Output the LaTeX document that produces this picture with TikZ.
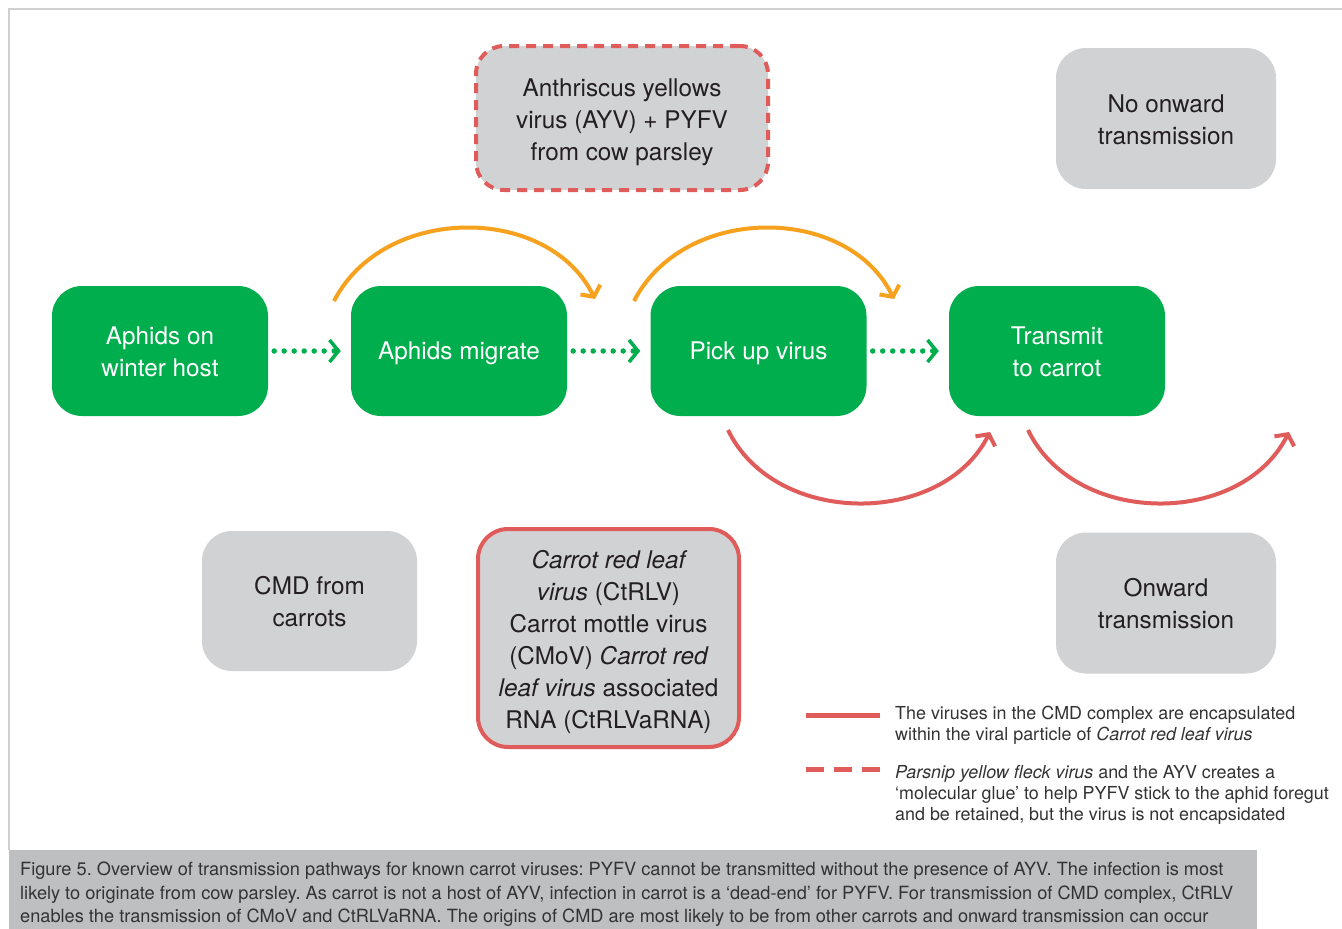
\documentclass[tikz,border=0pt]{standalone}
\usepackage{fontspec}
\setmainfont{TeX Gyre Heros}
\usetikzlibrary{arrows.meta}
\definecolor{cgreen}{HTML}{00AE4D}
\definecolor{corange}{HTML}{F6A21E}
\definecolor{cred}{HTML}{E05C5A}
\definecolor{cgrey}{HTML}{D1D2D4}
\definecolor{ccap}{HTML}{BEBFC1}
\definecolor{cframe}{HTML}{D0D0D0}
\definecolor{ctext}{HTML}{231F20}
\definecolor{clegend}{HTML}{333333}
\newcommand{\lift}[1]{\rule{0pt}{#1pt}}
\begin{document}
\frenchspacing
\begin{tikzpicture}[x=1pt,y=-1pt,
  boxfont/.style={font=\fontsize{24.3}{32}\selectfont},
  greenbox/.style={boxfont,rectangle,rounded corners=30pt,fill=cgreen,text=white,
    minimum width=216pt,minimum height=130pt,align=center,inner sep=0pt},
  greybox/.style={boxfont,rectangle,rounded corners=30pt,fill=cgrey,text=ctext,
    minimum width=220pt,minimum height=141pt,align=center,inner sep=0pt},
  dashbox/.style={boxfont,rectangle,rounded corners=28pt,fill=cgrey,text=ctext,draw=cred,
    line width=4pt,dash pattern=on 10pt off 7pt,align=center,inner sep=0pt},
  redbox/.style={boxfont,rectangle,rounded corners=30pt,fill=cgrey,text=ctext,draw=cred,
    line width=4pt,align=center,inner sep=0pt},
  dotarrow/.style={cgreen,line width=5.5pt,line cap=round,dash pattern=on 0pt off 10pt,
    -{Straight Barb[length=9pt,width=22pt,line width=3.5pt,sharp]}},
  orangearc/.style={corange,line width=4pt,
    -{Straight Barb[length=8pt,width=22pt,line width=4pt,sharp]}},
  redarc/.style={cred,line width=4pt,
    -{Straight Barb[length=8pt,width=22pt,line width=4pt,sharp]}},
  legendtext/.style={font=\fontsize{17.9}{21}\selectfont,text=clegend,align=left,
    inner sep=0pt,anchor=north west},
]
\useasboundingbox (0,0) rectangle (1342,929);
\fill[white] (0,0) rectangle (1342,929);
% frame
\draw[cframe,line width=2pt] (9,850) -- (9,9) -- (1342,9);
% caption
\fill[ccap] (9,850) rectangle (1257,929);
\node[font=\fontsize{18.2}{23.5}\selectfont,text=clegend,align=left,inner sep=0pt,
  anchor=north west] (cap) at (20,862)
  {Figure 5. Overview of transmission pathways for known carrot viruses: PYFV cannot be transmitted without the presence of AYV. The infection is most\\
   likely to originate from cow parsley. As carrot is not a host of AYV, infection in carrot is a `dead-end' for PYFV. For transmission of CMD complex, CtRLV\\
   enables the transmission of CMoV and CtRLVaRNA. The origins of CMD are most likely to be from other carrots and onward transmission can occur};

% green nodes
\node[greenbox] (b1) at (160,351) {\lift{20}Aphids on\\winter host};
\node[greenbox] (b2) at (459,351) {\lift{22}Aphids migrate};
\node[greenbox] (b3) at (758.5,351) {\lift{22}Pick up virus};
\node[greenbox] (b4) at (1057,351) {\lift{20}Transmit\\to carrot};

% grey nodes
\node[dashbox,minimum width=292pt,minimum height=144pt] (ayv) at (622,118)
  {\lift{26}Anthriscus yellows\\virus (AYV) + PYFV\\from cow parsley};
\node[greybox] (noon) at (1166,118.5) {\lift{20}No onward\\transmission};
\node[greybox,minimum width=215pt,minimum height=140pt] (cmd) at (309.5,601) {\lift{20}CMD from\\carrots};
\node[redbox,minimum width=261pt,minimum height=218pt] (ctrlv) at (608.5,638)
  {\lift{26}\itshape Carrot red leaf\\\itshape virus\upshape{} (CtRLV)\\Carrot mottle virus\\(CMoV) \itshape Carrot red\\\itshape leaf virus\upshape{} associated\\RNA (CtRLVaRNA)};
\node[greybox] (on) at (1166,603) {\lift{20}Onward\\transmission};

% dotted arrows
\draw[dotarrow] ([xshift=6pt]b1.east) -- ([xshift=-10pt]b2.west);
\draw[dotarrow] ([xshift=6pt]b2.east) -- ([xshift=-10pt]b3.west);
\draw[dotarrow] ([xshift=6pt]b3.east) -- ([xshift=-10pt]b4.west);

% arc end points
\coordinate (o1s) at (334,301);
\coordinate (o1e) at (595,299);
\coordinate (o2s) at (634,301);
\coordinate (o2e) at (894,299);
\coordinate (r1s) at (728,430);
\coordinate (r1e) at (990,432);
\coordinate (r2s) at (1028,430);
\coordinate (r2e) at (1289,432);

\draw[orangearc] (o1s) .. controls (384,204) and (548,204) .. (o1e);
\draw[orangearc] (o2s) .. controls (684,204) and (847,204) .. (o2e);
\draw[redarc] (r1s) .. controls (775,527) and (942,527) .. (r1e);
\draw[redarc] (r2s) .. controls (1075,527) and (1241,527) .. (r2e);

% legend
\coordinate (l1a) at (806,715);
\coordinate (l1b) at (880,715);
\coordinate (l2a) at (806,769);
\coordinate (l2b) at (880,769);
\draw[cred,line width=5pt] (l1a) -- (l1b);
\draw[cred,line width=5pt,dash pattern=on 18pt off 10pt] (l2a) -- (l2b);
\node[legendtext] (lt1) at (895,706)
  {The viruses in the CMD complex are encapsulated\\within the viral particle of \itshape Carrot red leaf virus};
\node[legendtext] (lt2) at (895,765)
  {\itshape Parsnip yellow fleck virus\upshape{} and the AYV creates a\\`molecular glue' to help PYFV stick to the aphid foregut\\and be retained, but the virus is not encapsidated};
\end{tikzpicture}
\end{document}
